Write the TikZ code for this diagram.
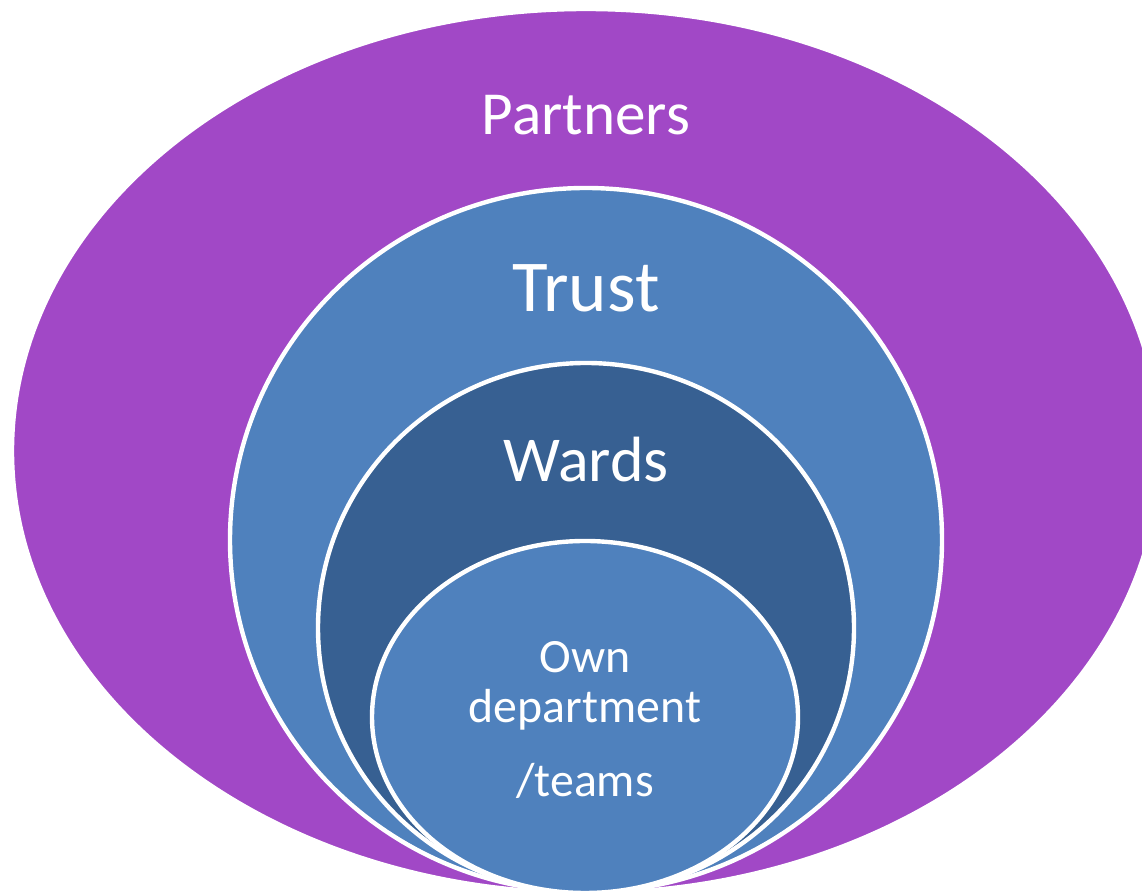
\documentclass[tikz,border=0pt]{standalone}
\usepackage{fontspec}
\setmainfont{Carlito}
\usepackage{tikz}
\usetikzlibrary{shapes,positioning,shapes.geometric}

\definecolor{partnerpurple}{RGB}{161,72,198}
\definecolor{trustblue}{RGB}{79,129,189}
\definecolor{wardblue}{RGB}{55,96,146}

\tikzset{
  ring/.style={ellipse, draw=white, line width=1.1mm, inner sep=0pt},
  ringtext/.style={anchor=base, text=white, inner sep=0pt}
}

\begin{document}
\begin{tikzpicture}[]
      \useasboundingbox (0,0) rectangle (28.55,22.35);
      \node[ring, fill=partnerpurple, minimum width=28.7cm, minimum height=22.1cm] (partners) at (14.65,11.075) {};
      \node[ring, fill=trustblue, minimum width=17.8cm, minimum height=17.6cm] (trust) at (14.65,8.85) {};
      \node[ring, fill=wardblue, minimum width=13.4cm, minimum height=13.25cm] (wards) at (14.65,6.65) {};
      \node[ring, fill=trustblue, minimum width=10.65cm, minimum height=8.8cm] (own) at (14.625,4.425) {};
      \node[ringtext, font=\fontsize{43.5}{52}\selectfont] (partnerslabel) at (14.65,18.975) {Partners};
      \node[ringtext, font=\fontsize{52}{62}\selectfont] (trustlabel) at (14.65,14.55) {Trust};
      \node[ringtext, font=\fontsize{45.5}{54}\selectfont] (wardslabel) at (14.65,10.3) {Wards};
      \node[ringtext, font=\fontsize{34}{41}\selectfont] (ownlabel) at (14.625,5.53) {Own};
      \node[ringtext, font=\fontsize{34}{41}\selectfont] (deptlabel) at (14.625,4.275) {department};
      \node[ringtext, font=\fontsize{34}{41}\selectfont] (teamslabel) at (14.625,2.425) {/teams};
    \end{tikzpicture}
\end{document}
